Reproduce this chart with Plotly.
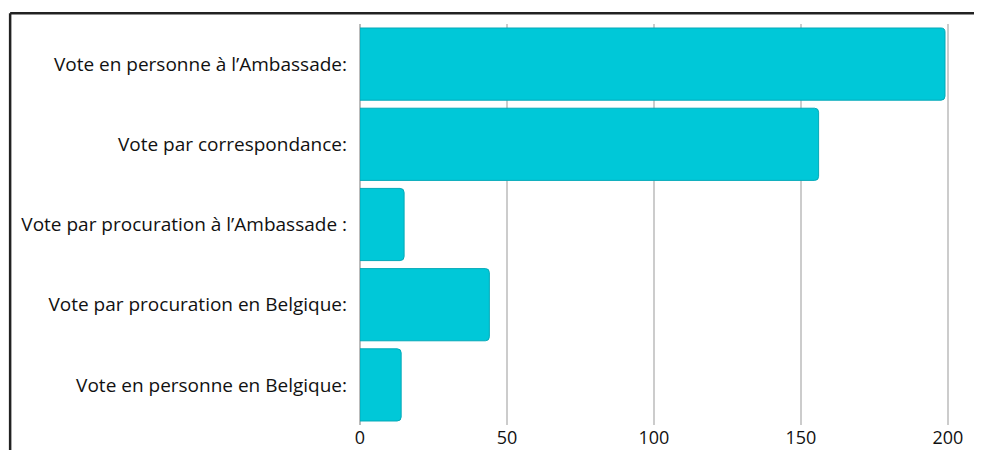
import plotly.graph_objects as go

categories = [
    "Vote en personne à l’Ambassade:",
    "Vote par correspondance:",
    "Vote par procuration à l’Ambassade :",
    "Vote par procuration en Belgique:",
    "Vote en personne en Belgique:",
]
values = [199, 156, 15, 44, 14]
tick_vals = [0, 50, 100, 150, 200]

fig = go.Figure(go.Bar(
    x=values,
    y=categories,
    orientation="h",
    marker=dict(color="#00C8D8", line=dict(color="#05A9B8", width=1)),
))

fig.update_layout(
    width=982, height=450,
    margin=dict(l=352, r=35, t=16, b=33, autoexpand=False),
    paper_bgcolor="white", plot_bgcolor="white",
    bargap=0.1,
    barcornerradius=4,
    showlegend=False,
    font=dict(family="Open Sans", size=17, color="#111111"),
    shapes=[
        dict(type="line", xref="paper", yref="paper", x0=-0.588, x1=1.3, y0=1.027, y1=1.027,
             line=dict(color="#222222", width=2.5)),
        dict(type="line", xref="paper", yref="paper", x0=-0.588, x1=-0.588, y0=1.027, y1=-0.2,
             line=dict(color="#222222", width=2.5)),
    ],
)
fig.update_xaxes(
    range=[0, 202.4], tickvals=tick_vals, showgrid=True, gridcolor="#cccccc", gridwidth=2,
    zeroline=True, zerolinecolor="#bbbbbb", zerolinewidth=2, showline=False,
    ticks="", ticklabelstandoff=0, tickfont=dict(size=18), automargin=False,
)
fig.update_yaxes(
    categoryorder="array", categoryarray=categories[::-1], autorange=True,
    showgrid=False, ticks="", ticklabelstandoff=12, tickfont=dict(size=19), automargin=False,
)

fig.write_html("out.html")
